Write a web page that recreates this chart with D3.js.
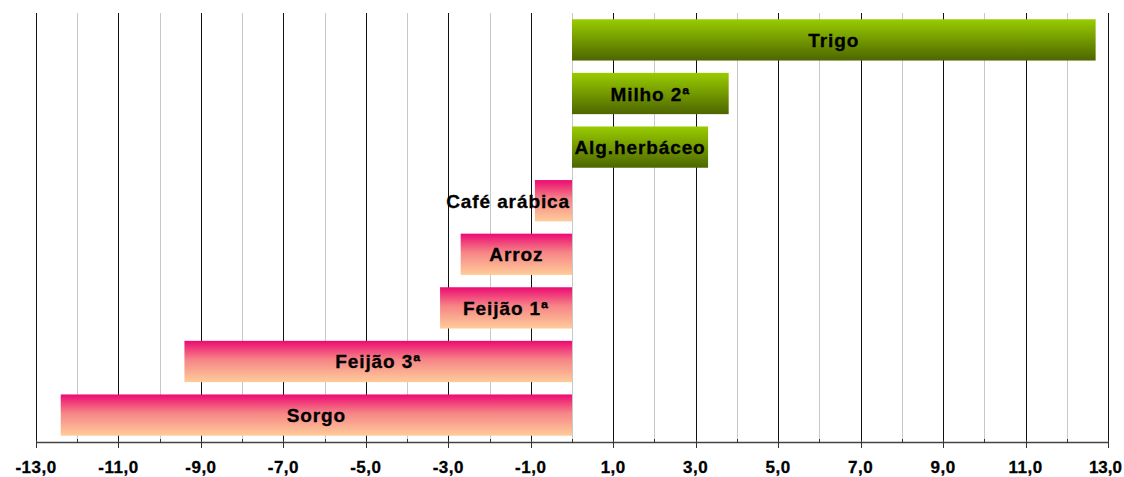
<!DOCTYPE html>
<html>
<head>
<meta charset="utf-8">
<script src="https://cdn.jsdelivr.net/npm/d3@7"></script>
<style>
  body { margin: 0; background: #fff; }
  text { font-family: "Liberation Sans", Arial, sans-serif; font-weight: bold; }
</style>
</head>
<body>
<div id="chart"></div>
<script>
// dados
const culturas = ["Trigo", "Milho 2ª", "Alg.herbáceo", "Café arábica", "Arroz", "Feijão 1ª", "Feijão 3ª", "Sorgo"];
const variacao = [12.7, 3.8, 3.3, -0.9, -2.7, -3.2, -9.4, -12.4];
const ticksMaiores = [-13, -11, -9, -7, -5, -3, -1, 1, 3, 5, 7, 9, 11, 13];
const ticksMenores = [-12, -10, -8, -6, -4, -2, 0, 2, 4, 6, 8, 10, 12];

const width = 1124;
const height = 477;
const yTopo = 13, yBase = 442;

const svg = d3.select("#chart")
  .append("svg")
  .attr("width", width)
  .attr("height", height);

const defs = svg.append("defs");
const gVerde = defs.append("linearGradient").attr("id", "verde")
  .attr("x1", 0).attr("y1", 0).attr("x2", 0).attr("y2", 1);
gVerde.append("stop").attr("offset", "0%").attr("stop-color", "#99cc00");
gVerde.append("stop").attr("offset", "100%").attr("stop-color", "#4d6600");
const gRosa = defs.append("linearGradient").attr("id", "rosa")
  .attr("x1", 0).attr("y1", 0).attr("x2", 0).attr("y2", 1);
gRosa.append("stop").attr("offset", "0%").attr("stop-color", "#ec0a72");
gRosa.append("stop").attr("offset", "45%").attr("stop-color", "#f68486");
gRosa.append("stop").attr("offset", "100%").attr("stop-color", "#ffcc99");

const x = d3.scaleLinear().domain([-13, 13]).range([36, 1108]);
const y = d3.scaleBand().domain(culturas).range([yTopo, yBase])
  .paddingInner(0.23).paddingOuter(0.117);

const px = v => Math.round(x(v)) + 0.5;

// grade
svg.selectAll("line.menor")
  .data(ticksMenores)
  .enter().append("line")
  .attr("class", "menor")
  .attr("x1", px).attr("x2", px)
  .attr("y1", yTopo).attr("y2", yBase)
  .attr("stroke", "#c8c8c8");

svg.selectAll("line.maior")
  .data(ticksMaiores)
  .enter().append("line")
  .attr("class", "maior")
  .attr("x1", px).attr("x2", px)
  .attr("y1", yTopo).attr("y2", yBase)
  .attr("stroke", "#111");

// barras
svg.selectAll("rect.barra")
  .data(culturas)
  .enter().append("rect")
  .attr("class", "barra")
  .attr("x", (d, i) => x(Math.min(0, variacao[i])))
  .attr("y", d => y(d))
  .attr("width", (d, i) => Math.abs(x(variacao[i]) - x(0)))
  .attr("height", y.bandwidth())
  .attr("fill", (d, i) => variacao[i] >= 0 ? "url(#verde)" : "url(#rosa)");

// rótulos
svg.selectAll("text.rotulo")
  .data(culturas)
  .enter().append("text")
  .attr("class", "rotulo")
  .attr("y", d => y(d) + y.bandwidth() / 2 + 7)
  .attr("font-size", 19)
  .attr("letter-spacing", 0.9)
  .attr("stroke", "#000").attr("stroke-width", 0.3)
  .attr("fill", "#000")
  .text(d => d)
  .each(function(d, i) {
    const a = x(Math.min(0, variacao[i])), b = x(Math.max(0, variacao[i]));
    const w = this.getComputedTextLength();
    const el = d3.select(this);
    if (w > b - a) {
      el.attr("x", b - 2).attr("text-anchor", "end");
    } else {
      el.attr("x", (a + b) / 2).attr("text-anchor", "middle");
    }
  });

// eixo x
svg.append("line")
  .attr("x1", x(-13)).attr("x2", x(13))
  .attr("y1", yBase + 0.5).attr("y2", yBase + 0.5)
  .attr("stroke", "#444").attr("stroke-width", 1.5);

svg.selectAll("line.tmaior")
  .data(ticksMaiores)
  .enter().append("line")
  .attr("x1", px).attr("x2", px)
  .attr("y1", yBase - 2).attr("y2", yBase + 6)
  .attr("stroke", "#333");

svg.selectAll("line.tmenor")
  .data(ticksMenores)
  .enter().append("line")
  .attr("x1", px).attr("x2", px)
  .attr("y1", yBase - 3).attr("y2", yBase + 1)
  .attr("stroke", "#333");

svg.selectAll("text.tick")
  .data(ticksMaiores)
  .enter().append("text")
  .attr("class", "tick")
  .attr("x", d => d === 13 ? width - 2 : x(d))
  .attr("y", 473)
  .attr("text-anchor", d => d === 13 ? "end" : "middle")
  .attr("font-size", 17)
  .attr("letter-spacing", d => d === 13 ? 0 : 0.5)
  .attr("stroke", "#000").attr("stroke-width", 0.3)
  .text(d => d3.format(".1f")(d).replace("−", "-").replace(".", ","));
</script>
</body>
</html>
